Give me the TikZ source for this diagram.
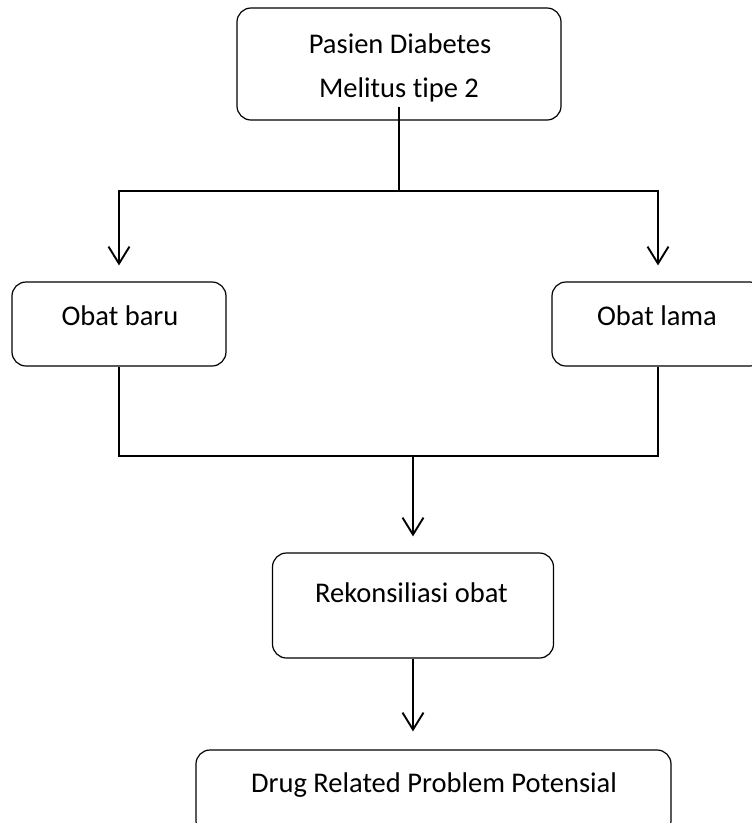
\documentclass[tikz,border=0pt]{standalone}
\usepackage{fontspec}
\setmainfont[Ligatures={NoCommon}]{Carlito}
\usetikzlibrary{arrows.meta}
\begin{document}
\begin{tikzpicture}[x=1pt,y=-1pt,
  box/.style={draw=black, line width=1.2pt, rounded corners=14pt, inner sep=0pt},
  txt/.style={font=\fontsize{28.5}{34}\selectfont, anchor=base, inner sep=0pt},
  conn/.style={draw=black, line width=1.9pt},
  arr/.style={conn, -{Straight Barb[length=17pt,width=21pt,line width=1.9pt]}}]
\useasboundingbox (0,0) rectangle (752,823);
% boxes
\node[box, minimum width=324pt, minimum height=112pt] (p) at (399,64) {};
\node[box, minimum width=214pt, minimum height=84pt] (ob) at (119,324) {};
\node[box, minimum width=212pt, minimum height=84pt] (ol) at (658,324) {};
\node[box, minimum width=281pt, minimum height=105pt] (rk) at (413,605.5) {};
\node[box, minimum width=475pt, minimum height=85pt] (drp) at (433.5,792.5) {};
% texts
\node[txt] (pt1) at (400,53) {Pasien Diabetes};
\node[txt] (pt2) at (399,97) {Melitus tipe 2};
\node[txt] (obt) at (120,325) {Obat baru};
\node[txt] (olt) at (657,325) {Obat lama};
\node[txt] (rkt) at (411.5,602) {Rekonsiliasi obat};
\node[txt] (drpt) at (434,792) {Drug Related Problem Potensial};
% connectors
\coordinate (j1) at (399,191);
\coordinate (j2) at (413,456);
\draw[conn] ([yshift=14pt]p.south) -- (j1);
\draw[arr, shorten >=16pt] (j1) -| (ob.north);
\draw[arr, shorten >=16pt] (j1) -| (ol.north);
\draw[conn] (ob.south) -- (ob.south |- j2) -- (ol.south |- j2) -- (ol.south);
\draw[arr, shorten >=16pt] (j2) -- (rk.north);
\draw[arr, shorten >=18pt] (rk.south) -- (rk.south |- drp.north);
\end{tikzpicture}
\end{document}
